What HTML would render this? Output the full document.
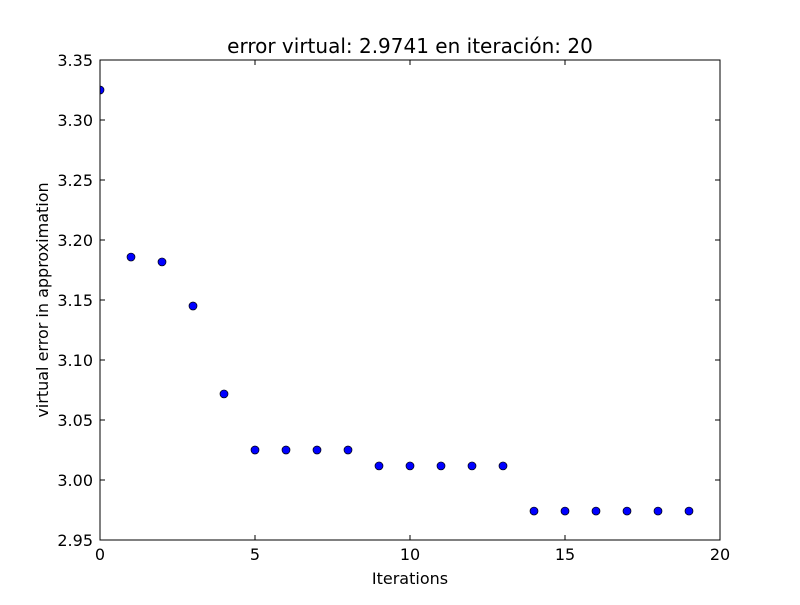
<!DOCTYPE html>
<html><head><meta charset="utf-8"><style>
body{margin:0;background:#fff;}
svg text{font-family:"DejaVu Sans","Liberation Sans",sans-serif;fill:#000;}
</style></head><body>
<svg id="chart" width="800" height="600">
<defs><clipPath id="pc"><rect x="100" y="60" width="620" height="480"/></clipPath></defs>
<rect width="800" height="600" fill="#fff"/>
<text x="410" y="53" font-size="20" text-anchor="middle">error virtual: 2.9741 en iteración: 20</text>
<g id="marks" clip-path="url(#pc)"></g>
<rect x="100" y="60" width="620" height="480" fill="none" stroke="#000" stroke-width="1"/>
<g id="axes"></g>
<text x="410" y="584" font-size="16" text-anchor="middle">Iterations</text>
<text transform="translate(48,300) rotate(-90)" font-size="16" text-anchor="middle">virtual error in approximation</text>
</svg>
<script>
const iterations=[0,1,2,3,4,5,6,7,8,9,10,11,12,13,14,15,16,17,18,19];
const errors=[3.325,3.1858,3.1817,3.145,3.0717,3.025,3.025,3.025,3.025,3.0117,3.0117,3.0117,3.0117,3.0117,2.9741,2.9741,2.9741,2.9741,2.9741,2.9741];
const xTicks=[0,5,10,15,20];
const yTicks=["2.95","3.00","3.05","3.10","3.15","3.20","3.25","3.30","3.35"];
const X0=100,X1=720,Y0=540,Y1=60,xMin=0,xMax=20,yMin=2.95,yMax=3.35;
const ns="http://www.w3.org/2000/svg";
function sx(v){return X0+(v-xMin)/(xMax-xMin)*(X1-X0);}
function sy(v){return Y0-(v-yMin)/(yMax-yMin)*(Y0-Y1);}
function mk(t,a,p){const e=document.createElementNS(ns,t);for(const k in a)e.setAttribute(k,a[k]);p.appendChild(e);return e;}
const axes=document.getElementById('axes'),marks=document.getElementById('marks');
xTicks.forEach(v=>{const x=sx(v);
 const t=mk('line',{x1:x,x2:x,y1:Y0,y2:Y0-5,stroke:'#000'},axes);
 
 
 const t2=mk('line',{x1:x,x2:x,y1:Y1,y2:Y1+5,stroke:'#000'},axes);
 
 
 const l=mk('text',{x:x,y:Y0+20,'font-size':16,'text-anchor':'middle'},axes);l.textContent=v;
 
 
});
yTicks.forEach(s=>{const y=sy(parseFloat(s));
 const t=mk('line',{x1:X0,x2:X0+5,y1:y,y2:y,stroke:'#000'},axes);
 
 
 const t2=mk('line',{x1:X1,x2:X1-5,y1:y,y2:y,stroke:'#000'},axes);
 
 
 const l=mk('text',{x:X0-7,y:y+6,'font-size':16,'text-anchor':'end'},axes);l.textContent=s;
 
 
});
iterations.forEach((v,i)=>{
 const c=mk('circle',{cx:sx(v),cy:sy(errors[i]),r:4,fill:'#0000ff',stroke:'#000','stroke-width':0.7},marks);
 
 
});
</script>
</body></html>
